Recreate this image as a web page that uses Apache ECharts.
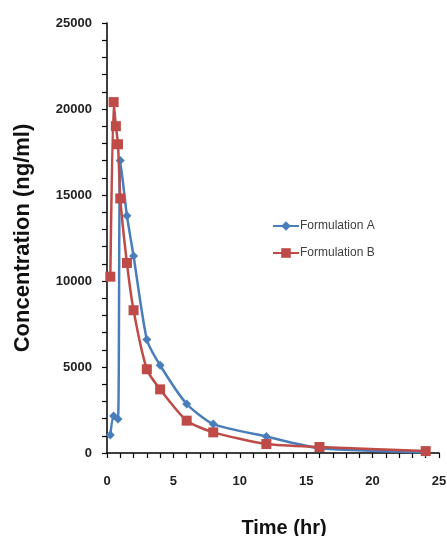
<!DOCTYPE html>
<html>
<head>
<meta charset="utf-8">
<script src="https://cdn.jsdelivr.net/npm/echarts@6/dist/echarts.min.js"></script>
<style>html,body{margin:0;padding:0;background:#fff}#c{width:447px;height:536px}</style>
</head>
<body>
<div id="c"></div>
<script>
var timesA = [0.25, 0.5, 0.83, 1, 1.5, 2, 3, 4, 6, 8, 12, 16, 24];
var concA = [1050, 2150, 1980, 17000, 13800, 11450, 6600, 5100, 2850, 1680, 960, 280, 40];
var timesB = [0.25, 0.5, 0.67, 0.83, 1, 1.5, 2, 3, 4, 6, 8, 12, 16, 24];
var concB = [10250, 20400, 19000, 17950, 14800, 11050, 8300, 4870, 3700, 1880, 1200, 520, 350, 110];
var nameA = 'Formulation A';
var nameB = 'Formulation B';
var xTitle = 'Time (hr)';
var yTitle = 'Concentration (ng/ml)';

function pairs(t, v) { return t.map(function (x, i) { return [x, v[i]]; }); }

var chart = echarts.init(document.getElementById('c'), null, {renderer: 'canvas'});
var axisCommon = {
  axisLine: {show: true, onZero: false, lineStyle: {color: '#000', width: 1.5}},
  axisTick: {show: true, inside: false, length: 5, lineStyle: {color: '#000', width: 1.2}},
  minorTick: {show: true, splitNumber: 5, length: 5, lineStyle: {color: '#000', width: 1.2}},
  splitLine: {show: false},
  axisLabel: {color: '#222', fontFamily: 'Liberation Sans', fontWeight: 'bold', fontSize: 13,
    formatter: function (v) { return String(v); }}
};
chart.setOption({
  animation: false,
  grid: {left: 107, right: 8, top: 23, bottom: 83, containLabel: false, outerBoundsMode: 'none'},
  legend: {
    orient: 'vertical', left: 267, top: 215,
    itemWidth: 26, itemHeight: 12, itemGap: 15,
    textStyle: {color: '#404040', fontFamily: 'Liberation Sans', fontSize: 12, padding: [0, 0, 0, -4]},
    data: [nameA, nameB]
  },
  xAxis: Object.assign({}, axisCommon, {
    type: 'value', min: 0, max: 25, interval: 5,
    axisLabel: Object.assign({}, axisCommon.axisLabel, {margin: 22}),
    name: xTitle, nameLocation: 'middle', nameGap: 65,
    nameTextStyle: {color: '#111', fontFamily: 'Liberation Sans', fontWeight: 'bold', fontSize: 20, padding: [0, 0, 0, 22]}
  }),
  yAxis: Object.assign({}, axisCommon, {
    type: 'value', min: 0, max: 25000, interval: 5000,
    axisLabel: Object.assign({}, axisCommon.axisLabel, {margin: 15}),
    name: yTitle, nameLocation: 'middle', nameGap: 73, nameRotate: 90,
    nameTextStyle: {color: '#111', fontFamily: 'Liberation Sans', fontWeight: 'bold', fontSize: 22}
  }),
  series: [
    {
      name: nameA, type: 'line', data: pairs(timesA, concA),
      smooth: 0.2,
      symbol: 'diamond', symbolSize: 9,
      lineStyle: {color: '#4A7EBB', width: 2.5},
      itemStyle: {color: '#4A7EBB'}, z: 2
    },
    {
      name: nameB, type: 'line', data: pairs(timesB, concB),
      smooth: 0.2,
      symbol: 'rect', symbolSize: 10,
      lineStyle: {color: '#BE4B48', width: 2.5},
      itemStyle: {color: '#BE4B48'}, z: 3
    }
  ]
});
</script>
</body>
</html>
